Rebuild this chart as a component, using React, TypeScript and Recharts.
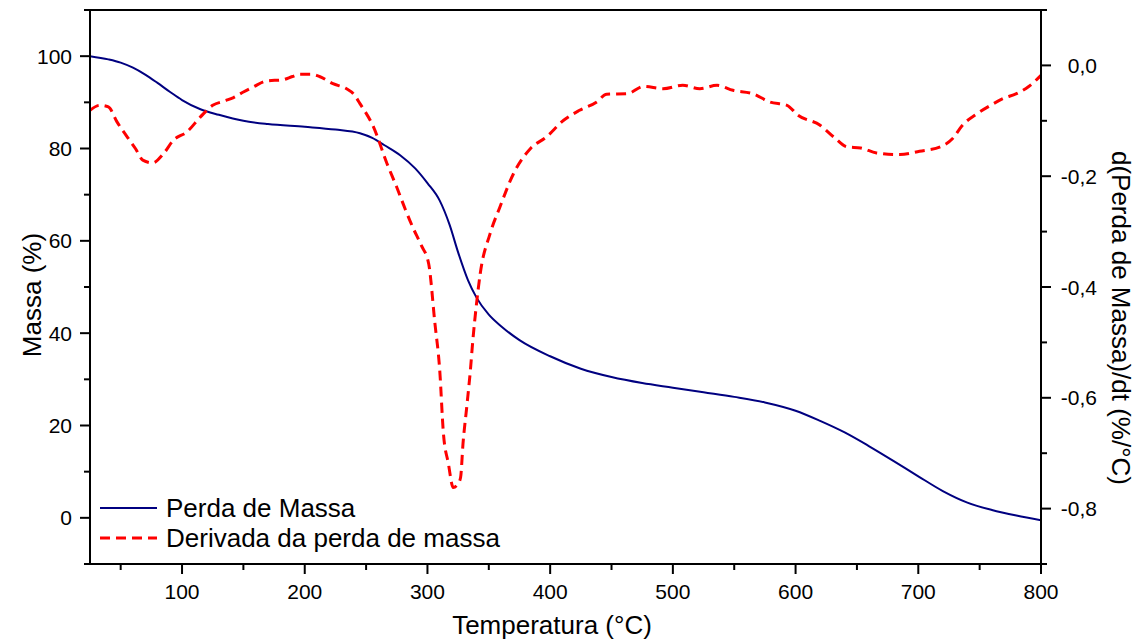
import { LineChart, Line, XAxis, YAxis, ReferenceLine } from 'recharts';

const FONT = "'Liberation Sans', Arial, sans-serif";

// Perda de massa (TGA), temperatura em °C vs massa em %
const massTemps = [25, 40, 50, 60, 70, 80, 90, 100, 115, 130, 150, 170, 200, 225, 245, 255, 265, 278, 290, 300, 310, 318, 325, 333, 340, 350, 360, 375, 400, 425, 450, 475, 500, 525, 550, 575, 600, 620, 640, 660, 680, 700, 720, 740, 760, 780, 800];
const massValues = [100, 99.3, 98.6, 97.5, 96.0, 94.2, 92.3, 90.5, 88.5, 87.3, 86.0, 85.3, 84.7, 84.1, 83.3, 82.3, 80.7, 78.5, 75.7, 72.5, 68.7, 63.5, 57.5, 51.5, 47.7, 44.0, 41.5, 38.5, 35.0, 32.3, 30.5, 29.2, 28.2, 27.2, 26.2, 25.0, 23.2, 21.0, 18.5, 15.5, 12.3, 9.0, 5.8, 3.3, 1.7, 0.5, -0.5];

// Derivada da perda de massa (DTG), %/°C
const dtgTemps = [25, 33, 40, 47, 55, 62, 68, 76, 85, 93, 104, 115, 125, 135, 142, 150, 158, 169, 182, 190, 196, 205, 212, 223, 234, 240, 245, 256, 267, 275, 282, 288, 295, 301, 306, 310, 313, 317, 321, 325, 327, 329, 332, 335, 337, 340, 343, 351, 359, 370, 384, 397, 411, 424, 438, 446, 463, 476, 492, 508, 522, 536, 549, 565, 579, 593, 602, 620, 631, 642, 653, 666, 685, 701, 718, 728, 736, 748, 759, 769, 780, 790, 800];
const dtgValues = [-0.081, -0.072, -0.075, -0.102, -0.128, -0.15, -0.171, -0.176, -0.159, -0.135, -0.12, -0.093, -0.072, -0.064, -0.058, -0.048, -0.039, -0.028, -0.026, -0.02, -0.016, -0.016, -0.02, -0.033, -0.042, -0.052, -0.069, -0.111, -0.177, -0.22, -0.26, -0.292, -0.325, -0.358, -0.464, -0.55, -0.664, -0.718, -0.762, -0.755, -0.744, -0.682, -0.617, -0.55, -0.496, -0.43, -0.376, -0.304, -0.256, -0.196, -0.15, -0.129, -0.099, -0.081, -0.066, -0.052, -0.051, -0.038, -0.042, -0.036, -0.042, -0.036, -0.045, -0.051, -0.066, -0.072, -0.09, -0.108, -0.129, -0.147, -0.149, -0.158, -0.161, -0.155, -0.147, -0.132, -0.108, -0.087, -0.072, -0.06, -0.051, -0.038, -0.018];

const xTicks = [50, 100, 150, 200, 250, 300, 350, 400, 450, 500, 550, 600, 650, 700, 750, 800];
const leftTicks = [-10, 0, 10, 20, 30, 40, 50, 60, 70, 80, 90, 100, 110];
const rightTicks = [0.1, 0, -0.1, -0.2, -0.3, -0.4, -0.5, -0.6, -0.7, -0.8, -0.9];

const massData = massTemps.map((t, i) => ({ t, massa: massValues[i] }));
const dtgData = dtgTemps.map((t, i) => ({ t, dtg: dtgValues[i] }));

const MAJOR = 10;
const MINOR = 6;
const TICK_FONT = 21;
const TITLE_FONT = 26;

function BottomTick({ x, y, payload }: any) {
  const v = payload.value;
  const major = v % 100 === 0;
  return (
    <g>
      <line x1={x} x2={x} y1={y} y2={y + (major ? MAJOR : MINOR)} stroke="#000" strokeWidth={2} />
      {major && (
        <text x={x} y={y + 35} textAnchor="middle" fontSize={TICK_FONT} fontFamily={FONT} fill="#000">
          {v}
        </text>
      )}
    </g>
  );
}

function LeftTick({ x, y, payload }: any) {
  const v = payload.value;
  const major = v % 20 === 0 && v >= 0 && v <= 100;
  return (
    <g>
      <line x1={x} x2={x - (major ? MAJOR : MINOR)} y1={y} y2={y} stroke="#000" strokeWidth={2} />
      {major && (
        <text x={x - 18} y={y} textAnchor="end" dominantBaseline="central" fontSize={TICK_FONT} fontFamily={FONT} fill="#000">
          {v}
        </text>
      )}
    </g>
  );
}

function RightTick({ x, y, payload }: any) {
  const v = payload.value;
  const k = Math.round(v * 10);
  const major = k % 2 === 0 && k <= 0 && k >= -8;
  const label = (k === 0 ? '0.0' : v.toFixed(1)).replace('.', ',');
  return (
    <g>
      <line x1={x} x2={x + (major ? MAJOR : MINOR)} y1={y} y2={y} stroke="#000" strokeWidth={2} />
      {major && (
        <text x={x + 56} y={y} textAnchor="end" dominantBaseline="central" fontSize={TICK_FONT} fontFamily={FONT} fill="#000">
          {label}
        </text>
      )}
    </g>
  );
}

export default function App() {
  return (
    <div style={{ position: 'absolute', left: 0, top: 0, width: 1141, height: 641, background: '#fff' }}>
      <LineChart width={1141} height={641} margin={{ top: 10, right: 40, bottom: 37, left: 30 }}>
        <XAxis
          dataKey="t"
          type="number"
          domain={[25, 800]}
          allowDataOverflow
          ticks={xTicks}
          interval={0}
          tickSize={0}
          tickMargin={0}
          tickLine={false}
          tick={<BottomTick />}
          axisLine={{ stroke: '#000', strokeWidth: 2 }}
          height={40}
        />
        <YAxis
          yAxisId="left"
          orientation="left"
          type="number"
          domain={[-10, 110]}
          allowDataOverflow
          ticks={leftTicks}
          interval={0}
          tickSize={0}
          tickMargin={0}
          tickLine={false}
          tick={<LeftTick />}
          axisLine={{ stroke: '#000', strokeWidth: 2 }}
          width={60}
        />
        <YAxis
          yAxisId="right"
          orientation="right"
          type="number"
          domain={[-0.9, 0.1]}
          allowDataOverflow
          ticks={rightTicks}
          interval={0}
          tickSize={0}
          tickMargin={0}
          tickLine={false}
          tick={<RightTick />}
          axisLine={{ stroke: '#000', strokeWidth: 2 }}
          width={60}
        />
        <ReferenceLine yAxisId="left" y={110} stroke="#000" strokeWidth={2} />
        <Line
          yAxisId="left"
          data={massData}
          dataKey="massa"
          type="monotone"
          stroke="#000080"
          strokeWidth={2}
          dot={false}
          isAnimationActive={false}
        />
        <Line
          yAxisId="right"
          data={dtgData}
          dataKey="dtg"
          type="monotone"
          stroke="#ff0000"
          strokeWidth={3}
          strokeDasharray="10 6"
          dot={false}
          isAnimationActive={false}
        />
      </LineChart>
      <svg width={1141} height={641} style={{ position: 'absolute', left: 0, top: 0, pointerEvents: 'none' }}>
        <text x={32} y={295} transform="rotate(-90 32 295)" textAnchor="middle" dominantBaseline="central" fontSize={TITLE_FONT} fontFamily={FONT} fill="#000">
          Massa (%)
        </text>
        <text x={552} y={634} textAnchor="middle" fontSize={TITLE_FONT} fontFamily={FONT} fill="#000">
          Temperatura (°C)
        </text>
        <text x={1121} y={318} transform="rotate(90 1121 318)" textAnchor="middle" dominantBaseline="central" fontSize={TITLE_FONT} fontFamily={FONT} fill="#000">
          d(Perda de Massa)/dt (%/°C)
        </text>
        <line x1={100} x2={157} y1={508} y2={508} stroke="#000080" strokeWidth={2} />
        <text x={166} y={508} dominantBaseline="central" fontSize={TITLE_FONT} fontFamily={FONT} fill="#000">
          Perda de Massa
        </text>
        <line x1={100} x2={157} y1={538} y2={538} stroke="#ff0000" strokeWidth={3} strokeDasharray="10 6" />
        <text x={166} y={538} dominantBaseline="central" fontSize={TITLE_FONT} fontFamily={FONT} fill="#000">
          Derivada da perda de massa
        </text>
      </svg>
    </div>
  );
}
